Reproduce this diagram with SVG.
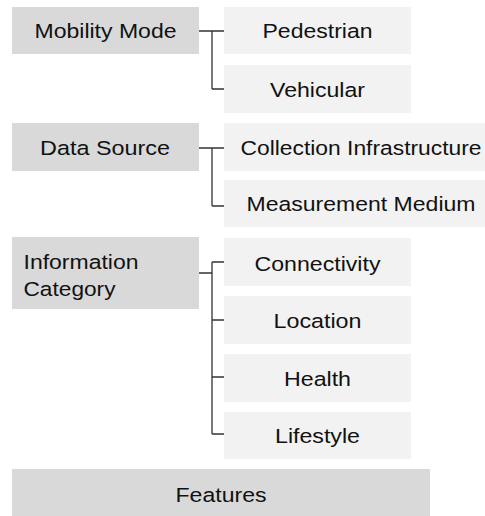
<svg xmlns="http://www.w3.org/2000/svg" width="485" height="516" viewBox="0 0 485 516">
  <style>
    .cat { fill: #d9d9d9; }
    .item { fill: #f2f2f2; }
    text { font-family: "Liberation Sans", Arial, sans-serif; font-size: 20.5px; fill: #111; }
    .c { text-anchor: middle; }
    .link { fill: none; stroke: #333; stroke-width: 1.3; }
  </style>
  <rect width="485" height="516" fill="#ffffff"/>

  <!-- connectors -->
  <g id="connectors">
    <path class="link" d="M199 31 H212 M212 31 V89 M212 31 H224 M212 89 H224"/>
    <path class="link" d="M199 148 H212 M212 148 V206 M212 148 H224 M212 206 H224"/>
    <path class="link" d="M199 273 H212 M212 262 V434 M212 262 H224 M212 320 H224 M212 377 H224 M212 434 H224"/>
  </g>

  <!-- Mobility Mode -->
  <g id="mobility-mode">
    <rect class="cat" x="12" y="7" width="187" height="47"/>
    <text class="c" x="105.5" y="38" textLength="142" lengthAdjust="spacingAndGlyphs">Mobility Mode</text>
  </g>
  <g id="pedestrian">
    <rect class="item" x="224" y="7" width="187" height="47"/>
    <text class="c" x="317.5" y="38" textLength="110" lengthAdjust="spacingAndGlyphs">Pedestrian</text>
  </g>
  <g id="vehicular">
    <rect class="item" x="224" y="65" width="187" height="48"/>
    <text class="c" x="317.5" y="96.5" textLength="95" lengthAdjust="spacingAndGlyphs">Vehicular</text>
  </g>

  <!-- Data Source -->
  <g id="data-source">
    <rect class="cat" x="12" y="123" width="187" height="48"/>
    <text class="c" x="105" y="155" textLength="130" lengthAdjust="spacingAndGlyphs">Data Source</text>
  </g>
  <g id="collection-infrastructure">
    <rect class="item" x="224" y="123" width="274" height="48"/>
    <text class="c" x="361" y="154.5" textLength="241" lengthAdjust="spacingAndGlyphs">Collection Infrastructure</text>
  </g>
  <g id="measurement-medium">
    <rect class="item" x="224" y="180" width="274" height="47"/>
    <text class="c" x="361" y="211" textLength="229" lengthAdjust="spacingAndGlyphs">Measurement Medium</text>
  </g>

  <!-- Information Category -->
  <g id="information-category">
    <rect class="cat" x="12" y="237" width="187" height="72"/>
    <text x="23.5" y="268.5" textLength="115" lengthAdjust="spacingAndGlyphs">Information</text>
    <text x="23.5" y="295.5" textLength="92" lengthAdjust="spacingAndGlyphs">Category</text>
  </g>
  <g id="connectivity">
    <rect class="item" x="224" y="238" width="187" height="48"/>
    <text class="c" x="317.5" y="270.5" textLength="126" lengthAdjust="spacingAndGlyphs">Connectivity</text>
  </g>
  <g id="location">
    <rect class="item" x="224" y="296" width="187" height="48"/>
    <text class="c" x="317.5" y="328.3" textLength="88" lengthAdjust="spacingAndGlyphs">Location</text>
  </g>
  <g id="health">
    <rect class="item" x="224" y="354" width="187" height="48"/>
    <text class="c" x="317.5" y="386" textLength="67" lengthAdjust="spacingAndGlyphs">Health</text>
  </g>
  <g id="lifestyle">
    <rect class="item" x="224" y="412" width="187" height="47"/>
    <text class="c" x="317.5" y="443.3" textLength="85" lengthAdjust="spacingAndGlyphs">Lifestyle</text>
  </g>

  <!-- Features -->
  <g id="features">
    <rect class="cat" x="12" y="469" width="418" height="48"/>
    <text class="c" x="221" y="501.5" textLength="91" lengthAdjust="spacingAndGlyphs">Features</text>
  </g>
</svg>
